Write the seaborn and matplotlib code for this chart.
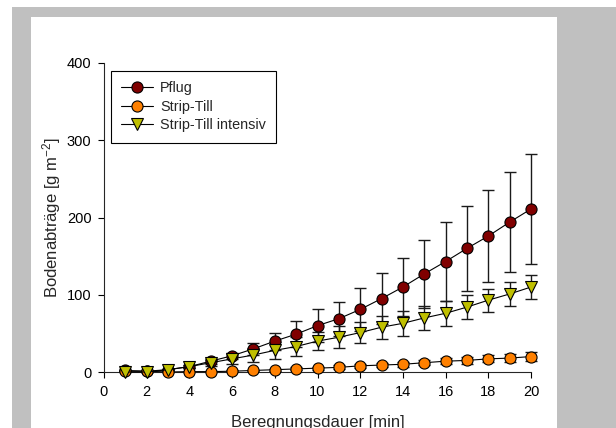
import numpy as np
import pandas as pd
import matplotlib
matplotlib.use("Agg")
import matplotlib.pyplot as plt
import seaborn as sns
from matplotlib.patches import Rectangle

minutes = list(range(1, 21))
pflug = [2, 1, 3, 7, 14, 21, 30, 40, 49, 60, 69, 81, 95, 110, 127, 143, 160, 176, 194, 211]
pflug_err = [0.5, 0.5, 1, 2, 3, 4, 8, 11, 17, 21, 22, 28, 33, 38, 44, 51, 55, 60, 65, 71]
strip = [1, 1, 0, 0.5, 0.5, 1, 2, 3, 4, 5, 6, 8, 9, 10, 12, 14, 15, 17, 18, 20]
strip_err = [0, 0, 0, 0.5, 0.5, 1, 1, 1.5, 2, 2, 2.5, 3, 3, 3, 3.5, 4, 4, 4.5, 5, 6]
intensiv = [0, 0, 3, 7, 12, 17, 22, 28, 33, 40, 45, 51, 58, 63, 70, 76, 84, 93, 101, 110]
intensiv_err = [0.5, 0.5, 1, 2, 4, 6, 9, 11, 12, 12, 14, 14, 15, 16, 16, 16, 16, 15, 16, 16]

series_names = ["Pflug", "Strip-Till", "Strip-Till intensiv"]
colors = ["#800000", "#FF8000", "#BFBF00"]
markers = ["o", "o", "v"]

df = pd.DataFrame({
    "min": minutes * 3,
    "val": pflug + strip + intensiv,
    "err": pflug_err + strip_err + intensiv_err,
    "serie": [series_names[0]] * 20 + [series_names[1]] * 20 + [series_names[2]] * 20,
})

sns.set_style("ticks")
plt.rcParams["font.family"] = ["Liberation Sans", "DejaVu Sans"]
plt.rcParams["mathtext.default"] = "regular"

fig = plt.figure(figsize=(6.16, 4.28), dpi=100)
fig.patch.set_facecolor("white")
W, H = 616, 428
fig.patches.append(Rectangle((12 / W, 0), (616 - 12) / W, (428 - 7) / H,
                             transform=fig.transFigure, facecolor="#C0C0C0",
                             edgecolor="none", zorder=-10))
fig.patches.append(Rectangle((31 / W, 0), (557 - 31) / W, (428 - 17) / H,
                             transform=fig.transFigure, facecolor="white",
                             edgecolor="none", zorder=-9))

ax = fig.add_axes([104 / W, 1 - 372 / H, (531 - 104) / W, (372 - 63) / H])
ax.set_facecolor("none")

# error bars first
for name, col in zip(series_names, colors):
    sub = df[df["serie"] == name]
    ax.errorbar(sub["min"], sub["val"], yerr=sub["err"], fmt="none",
                ecolor="#1a1a1a", elinewidth=1.0, capsize=4, capthick=1.0,
                zorder=2, clip_on=False)

for name, col, mk in zip(series_names, colors, markers):
    sub = df[df["serie"] == name]
    sns.lineplot(data=sub, x="min", y="val", ax=ax, color="black", linewidth=0.8,
                 marker=mk, markersize=8 if mk == "o" else 8.5,
                 markerfacecolor=col, markeredgecolor="black", markeredgewidth=0.8,
                 label=name, zorder=3, clip_on=False)

ax.set_xlim(0, 20)
ax.set_ylim(0, 400)
ax.set_xticks(range(0, 21, 2))
ax.set_yticks(range(0, 401, 100))
sns.despine(ax=ax)
ax.spines["left"].set_linewidth(0.8)
ax.spines["bottom"].set_linewidth(0.8)
ax.tick_params(direction="out", length=4, width=0.8, labelsize=10.5, colors="black", pad=5)

ax.set_xlabel("Beregnungsdauer [min]", fontsize=12, labelpad=12)
ax.set_ylabel("Bodenabträge [g m$^{-2}$]", fontsize=12, labelpad=3)

leg = ax.legend(loc="upper left", bbox_to_anchor=(0.016, 0.974), fontsize=10.4,
                frameon=True, fancybox=False, edgecolor="black", framealpha=1,
                borderaxespad=0, handlelength=2.2, borderpad=0.7,
                labelspacing=0.32, handletextpad=0.5)
leg.get_frame().set_linewidth(0.8)

fig.savefig("out.png", dpi=100)
